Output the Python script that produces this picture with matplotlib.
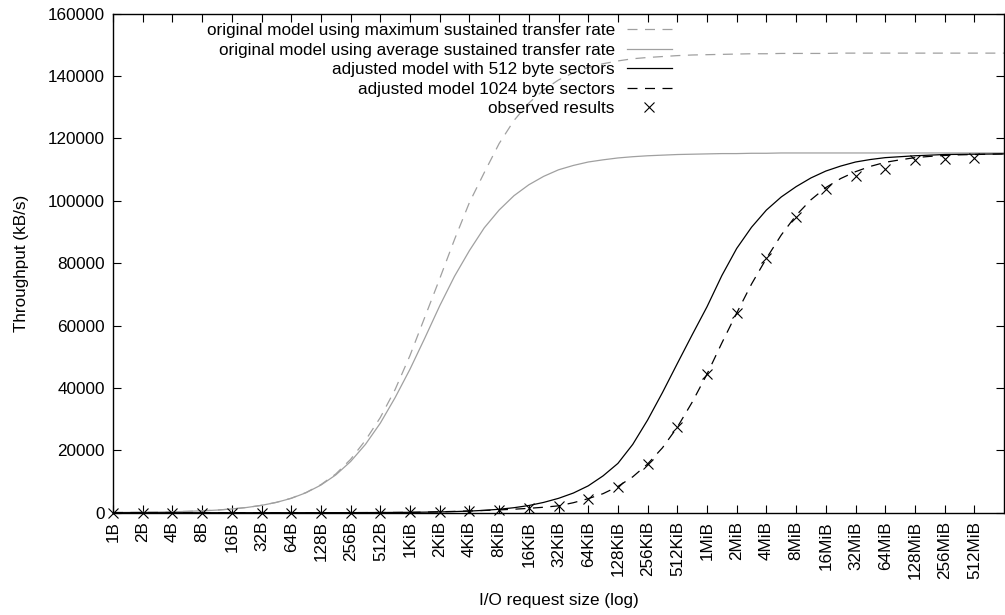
import numpy as np
import matplotlib.pyplot as plt

plt.rcParams['font.family'] = ['Liberation Sans', 'DejaVu Sans']

# request sizes as powers of two (1B .. 1GiB); curves read every half octave
curve_exp = [i / 2 for i in range(61)]
obs_exp = [0, 1, 2, 3, 4, 5, 6, 7, 8, 9, 10, 11, 12, 13, 14, 15,
           16, 17, 18, 19, 20, 21, 22, 23, 24, 25, 26, 27, 28, 29]
tick_labels = ['1B', '2B', '4B', '8B', '16B', '32B', '64B', '128B', '256B', '512B',
               '1KiB', '2KiB', '4KiB', '8KiB', '16KiB', '32KiB', '64KiB', '128KiB',
               '256KiB', '512KiB', '1MiB', '2MiB', '4MiB', '8MiB', '16MiB', '32MiB',
               '64MiB', '128MiB', '256MiB', '512MiB']

# throughput in kB/s
orig_max = [75, 106, 150, 212, 300, 423, 600, 845, 1190, 1680,
            2360, 3320, 4640, 6470, 9000, 12400, 17100, 23200, 30500, 39500,
            50400, 62700, 75000, 87600, 99400, 109000, 118300, 125700, 131300, 135500,
            138700, 141000, 142700, 143900, 144800, 145500, 145900, 146200, 146500, 146700,
            146800, 146900, 147000, 147100, 147100, 147200, 147200, 147200, 147200, 147300,
            147300, 147300, 147300, 147300, 147300, 147300, 147300, 147300, 147300, 147300,
            147300]
orig_avg = [75, 106, 150, 212, 300, 422, 600, 840, 1190, 1670,
            2350, 3300, 4600, 6400, 8850, 12100, 16400, 21900, 28700, 36900,
            46000, 56000, 66300, 75800, 84000, 91300, 97000, 101600, 105100, 107800,
            109900, 111300, 112400, 113100, 113700, 114100, 114400, 114600, 114800, 114900,
            115000, 115100, 115100, 115200, 115200, 115300, 115300, 115300, 115300, 115300,
            115300, 115300, 115300, 115300, 115300, 115300, 115300, 115300, 115300, 115300,
            115300]
adj_512 = [0.1, 0.15, 0.2, 0.3, 0.5, 0.7, 1, 1.4, 2, 3,
           4, 6, 8, 11, 15, 21, 30, 42, 60, 85,
           120, 175, 250, 360, 520, 760, 1100, 1600, 2300, 3300,
           4600, 6300, 8600, 11800, 15800, 21900, 29700, 38500, 47800, 57000,
           66000, 76000, 84700, 91500, 97000, 101200, 104500, 107300, 109500, 111100,
           112400, 113200, 113800, 114100, 114400, 114600, 114800, 114850, 114900, 114950,
           115000]
adj_1024 = [0.1, 0.14, 0.2, 0.28, 0.4, 0.56, 0.8, 1.1, 1.5, 2.1,
            3, 4.2, 6, 8.5, 12, 17, 25, 35, 50, 70,
            100, 180, 300, 420, 550, 720, 900, 1120, 1400, 1750,
            2200, 3200, 4500, 6100, 8400, 11500, 15600, 20800, 27400, 35400,
            44400, 54400, 64000, 73300, 81500, 89000, 95300, 100300, 104200, 107100,
            109300, 111000, 112300, 113100, 113800, 114200, 114500, 114700, 114800, 114900,
            115000]
observed = [0, 0, 0, 0, 0, 0, 0, 0, 0, 0, 100, 300, 550, 870, 1400, 2150, 4500,
            8330, 15600, 27400, 44400, 64100, 81700, 94700, 103700, 107900, 110200,
            113000, 113300, 113600]

for series in (orig_max, orig_avg, adj_512, adj_1024):
    assert len(series) == len(curve_exp)

sizes = np.power(2.0, curve_exp)
obs_sizes = np.power(2.0, obs_exp)

fs = 12.3

fig = plt.figure(figsize=(10.05, 6.15), dpi=100)
ax = fig.add_axes([113/1005, 1 - 512.7/615, 891/1005, (512.7 - 13.5)/615])

gray = '#a0a0a0'
ax.plot(sizes, orig_max, color=gray, lw=0.9, ls=(0, (8, 6)),
        label='original model using maximum sustained transfer rate')
ax.plot(sizes, orig_avg, color=gray, lw=0.9,
        label='original model using average sustained transfer rate')
ax.plot(sizes, adj_512, color='black', lw=0.9,
        label='adjusted model with 512 byte sectors')
ax.plot(sizes, adj_1024, color='black', lw=0.9, ls=(0, (8, 6)),
        label='adjusted model 1024 byte sectors')
ax.plot(obs_sizes, observed, ls='none', marker='x', ms=7, mew=0.8, color='black',
        clip_on=False, label='observed results')

ax.set_xscale('log', base=2)
ax.set_xlim(1, 2.0 ** 30)
ax.set_ylim(0, 160000)
ax.set_xticks(obs_sizes)
ax.set_xticklabels(tick_labels, rotation=90, fontsize=fs)
ax.xaxis.set_minor_locator(plt.NullLocator())
ax.set_yticks(np.arange(0, 160001, 20000))
ax.tick_params(axis='both', direction='in', length=6, width=0.8,
               top=True, right=True, labelsize=fs, pad=6)

for sp in ax.spines.values():
    sp.set_linewidth(1.0)

ax.set_xlabel('I/O request size (log)', fontsize=fs, labelpad=10)
ax.set_ylabel('Throughput (kB/s)', fontsize=fs, labelpad=13)

ax.legend(loc='upper right', bbox_to_anchor=(672/1005, 1 - 23/615),
          bbox_transform=fig.transFigure, frameon=False, markerfirst=False,
          fontsize=fs, handlelength=2.65, handletextpad=0.7, labelspacing=0.27,
          borderpad=0, borderaxespad=0)

fig.savefig('out.png', dpi=100)
